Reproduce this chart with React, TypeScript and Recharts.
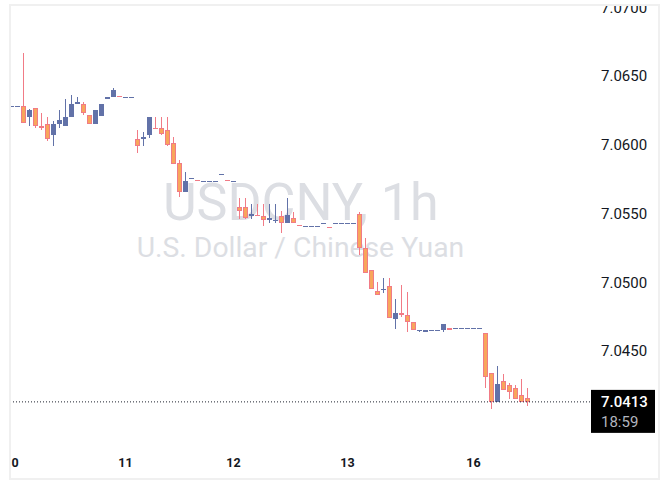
import { ComposedChart, Bar, XAxis, YAxis, ReferenceLine } from 'recharts';

// hourly candles
const opens = [
  7.0628, 7.0628, 7.0628, 7.062, 7.0627, 7.0614, 7.0615, 7.0607, 7.0615, 7.0614,
  7.062, 7.063, 7.063, 7.0622, 7.0615, 7.0621, 7.0633, 7.0635, 7.06352, 7.0635,
  7.0635, 7.0604, 7.0604, 7.0607, 7.06122, 7.0612, 7.0611, 7.0601, 7.0587, 7.0566,
  7.0576, 7.05742, 7.0574, 7.0574, 7.0574, 7.0579, 7.05742, 7.0574, 7.0555, 7.0555,
  7.0548, 7.0549, 7.0548, 7.0545, 7.0545, 7.0548, 7.0543, 7.0547, 7.0542, 7.0541,
  7.0541, 7.0541, 7.0543, 7.05402, 7.0543, 7.0543, 7.0543, 7.0543, 7.055, 7.0525,
  7.0509, 7.0494, 7.0495, 7.0497, 7.0473, 7.0478, 7.0476, 7.0471, 7.0465, 7.0464,
  7.0465, 7.0465, 7.0465, 7.0467, 7.0467, 7.0467, 7.0467, 7.0467, 7.0467, 7.0463,
  7.0434, 7.0413, 7.0428, 7.0425, 7.0423, 7.0418, 7.0416,
];
const highs = [
  7.0628, 7.0628, 7.0667, 7.0626, 7.0627, 7.0623, 7.062, 7.0617, 7.0625, 7.0633,
  7.0636, 7.0635, 7.0631, 7.0622, 7.0625, 7.063, 7.0635, 7.0641, 7.06352, 7.0635,
  7.0635, 7.0611, 7.0609, 7.062, 7.062, 7.062, 7.062, 7.0606, 7.0589, 7.058,
  7.0576, 7.05742, 7.0574, 7.0574, 7.0574, 7.0579, 7.05742, 7.0574, 7.0561, 7.0561,
  7.0557, 7.0557, 7.0557, 7.0557, 7.0557, 7.0552, 7.0561, 7.0551, 7.0542, 7.0541,
  7.0541, 7.0541, 7.0543, 7.05402, 7.0543, 7.0543, 7.0543, 7.0543, 7.0551, 7.0532,
  7.0509, 7.05, 7.0503, 7.0503, 7.0488, 7.0498, 7.0493, 7.0471, 7.0465, 7.0465,
  7.0465, 7.0465, 7.047, 7.0467, 7.0467, 7.0467, 7.0467, 7.0467, 7.0467, 7.0463,
  7.0434, 7.0439, 7.0433, 7.0427, 7.0425, 7.043, 7.0423,
];
const lows = [
  7.0628, 7.0628, 7.0616, 7.0614, 7.0612, 7.0611, 7.0603, 7.0599, 7.0612, 7.0614,
  7.062, 7.063, 7.0622, 7.0615, 7.0615, 7.0621, 7.0633, 7.0635, 7.0635, 7.0635,
  7.0635, 7.0594, 7.0599, 7.0605, 7.0612, 7.0607, 7.0599, 7.0586, 7.0562, 7.0566,
  7.0576, 7.0574, 7.0574, 7.0574, 7.0574, 7.0579, 7.0574, 7.0574, 7.0546, 7.0546,
  7.0546, 7.0548, 7.0541, 7.0543, 7.0543, 7.0536, 7.0543, 7.0543, 7.0541, 7.0541,
  7.0541, 7.0541, 7.0543, 7.054, 7.0543, 7.0543, 7.0543, 7.0543, 7.052, 7.0507,
  7.0495, 7.0491, 7.0492, 7.0474, 7.0466, 7.0475, 7.0464, 7.0465, 7.0464, 7.0464,
  7.0465, 7.0465, 7.0464, 7.0465, 7.0467, 7.0467, 7.0467, 7.0467, 7.0467, 7.0423,
  7.0408, 7.0413, 7.0422, 7.0415, 7.0415, 7.0413, 7.041,
];
const closes = [
  7.0628, 7.0628, 7.0616, 7.0625, 7.0614, 7.0612, 7.0604, 7.0615, 7.0618, 7.062,
  7.063, 7.0631, 7.0623, 7.0615, 7.0625, 7.063, 7.0635, 7.064, 7.0635, 7.0635,
  7.0635, 7.0599, 7.0606, 7.062, 7.0612, 7.0608, 7.06, 7.0586, 7.0566, 7.0574,
  7.0576, 7.0574, 7.0574, 7.0574, 7.0574, 7.0579, 7.0574, 7.0574, 7.0552, 7.0547,
  7.055, 7.0548, 7.0545, 7.0547, 7.0545, 7.0543, 7.0549, 7.0543, 7.0541, 7.0541,
  7.0541, 7.0541, 7.0543, 7.054, 7.0543, 7.0543, 7.0543, 7.0543, 7.0525, 7.0507,
  7.0495, 7.0491, 7.0495, 7.0474, 7.0478, 7.0476, 7.0471, 7.0465, 7.0465, 7.0465,
  7.0465, 7.0465, 7.047, 7.0465, 7.0467, 7.0467, 7.0467, 7.0467, 7.0467, 7.0431,
  7.0413, 7.0426, 7.0422, 7.042, 7.0415, 7.0413, 7.0413,
];

const dayTicks = [0, 19, 37, 56, 77];
const dayLabels = ['10', '11', '12', '13', '16'];
const priceTicks = [7.045, 7.05, 7.055, 7.06, 7.065, 7.07];
const symbol = 'USDCNY, 1h';
const description = 'U.S. Dollar / Chinese Yuan';
const countdown = '18:59';

const UP = '#6272a8';
const DOWN_FILL = '#f8a65b';
const DOWN_LINE = '#f17b86';
const TEXT = '#131722';
const FONT = 'Roboto, "Noto Sans", sans-serif';

const data = opens.map((open, i) => ({
  i,
  open,
  high: highs[i],
  low: lows[i],
  close: closes[i],
}));
const last = data[data.length - 1];

function Candle(props: any) {
  const { x, y, width, height, payload } = props;
  const { open, high, low, close } = payload;
  const cx = x + width / 2;
  const k = high > low ? height / (high - low) : 0;
  const yOf = (v: number) => y + (high - v) * k;
  const up = close >= open;
  const color = up ? UP : DOWN_LINE;
  const top = yOf(Math.max(open, close));
  const h = Math.max(yOf(Math.min(open, close)) - top, 1);
  return (
    <g shapeRendering="crispEdges">
      {high > low && (
        <rect x={cx - 0.5} y={yOf(high)} width={1} height={yOf(low) - yOf(high)} fill={color} />
      )}
      <rect x={cx - 2.5} y={top} width={5} height={h} fill={color} />
      {!up && h > 2 && (
        <rect x={cx - 1.5} y={top + 1} width={3} height={h - 2} fill={DOWN_FILL} />
      )}
    </g>
  );
}

function PriceTag(props: any) {
  const { x, y, width } = props.viewBox;
  const left = x + width + 1;
  return (
    <g>
      <rect x={left} y={y - 12} width={64} height={43} fill="#000" />
      <text x={left + 10} y={y + 5.5} fontSize={15} fontWeight={500} fontFamily={FONT} fill="#fff">
        {last.close.toFixed(4)}
      </text>
      <text x={left + 10} y={y + 25.5} fontSize={15} fontFamily={FONT} fill="#b2b5be">
        {countdown}
      </text>
    </g>
  );
}

export default function App() {
  return (
    <div style={{ position: 'absolute', left: 0, top: 0, width: 670, height: 497, background: '#fff' }}>
      <svg width={670} height={497} style={{ position: 'absolute', left: 0, top: 0 }}>
        <text x={300.8} y={219.5} textAnchor="middle" fontSize={52} fontFamily={FONT} fill="#dcdee3">
          {symbol}
        </text>
        <text x={300.5} y={257.3} textAnchor="middle" fontSize={28.3} fontFamily={FONT} fill="#dcdee3">
          {description}
        </text>
      </svg>
      <div
        style={{
          position: 'absolute',
          left: 9,
          top: 4,
          width: 651,
          height: 476,
          border: '2px solid #f0f0f0',
          boxSizing: 'border-box',
        }}
      >
        <div style={{ width: 647, height: 472, overflow: 'hidden' }}>
          <ComposedChart width={647} height={472} data={data} margin={{ top: 0, right: 0, bottom: 0, left: 0 }}>
            <XAxis
              type="number"
              dataKey="i"
              domain={[-1 / 12, 96.5 - 1 / 12]}
              ticks={dayTicks}
              interval={0}
              allowDataOverflow
              tickFormatter={(v) => dayLabels[dayTicks.indexOf(v)]}
              axisLine={false}
              tickLine={false}
              tickSize={0}
              tickMargin={6}
              height={26}
              tick={{ fontSize: 12.5, fontWeight: 700, fill: TEXT, fontFamily: FONT }}
            />
            <YAxis
              orientation="right"
              domain={[7.037655, 7.070091]}
              ticks={priceTicks}
              interval={0}
              allowDataOverflow
              width={68}
              axisLine={false}
              tickLine={false}
              tickSize={0}
              tickMargin={11}
              tickFormatter={(v) => Number(v).toFixed(4)}
              tick={{ fontSize: 15, fill: TEXT, fontFamily: FONT }}
            />
            <Bar
              dataKey={(d: any) => [d.low, d.high]}
              barSize={5}
              shape={Candle}
              isAnimationActive={false}
            />
            <ReferenceLine
              y={last.close}
              stroke="#1e222d"
              strokeDasharray="1 2"
              label={<PriceTag />}
            />
          </ComposedChart>
        </div>
      </div>
    </div>
  );
}
